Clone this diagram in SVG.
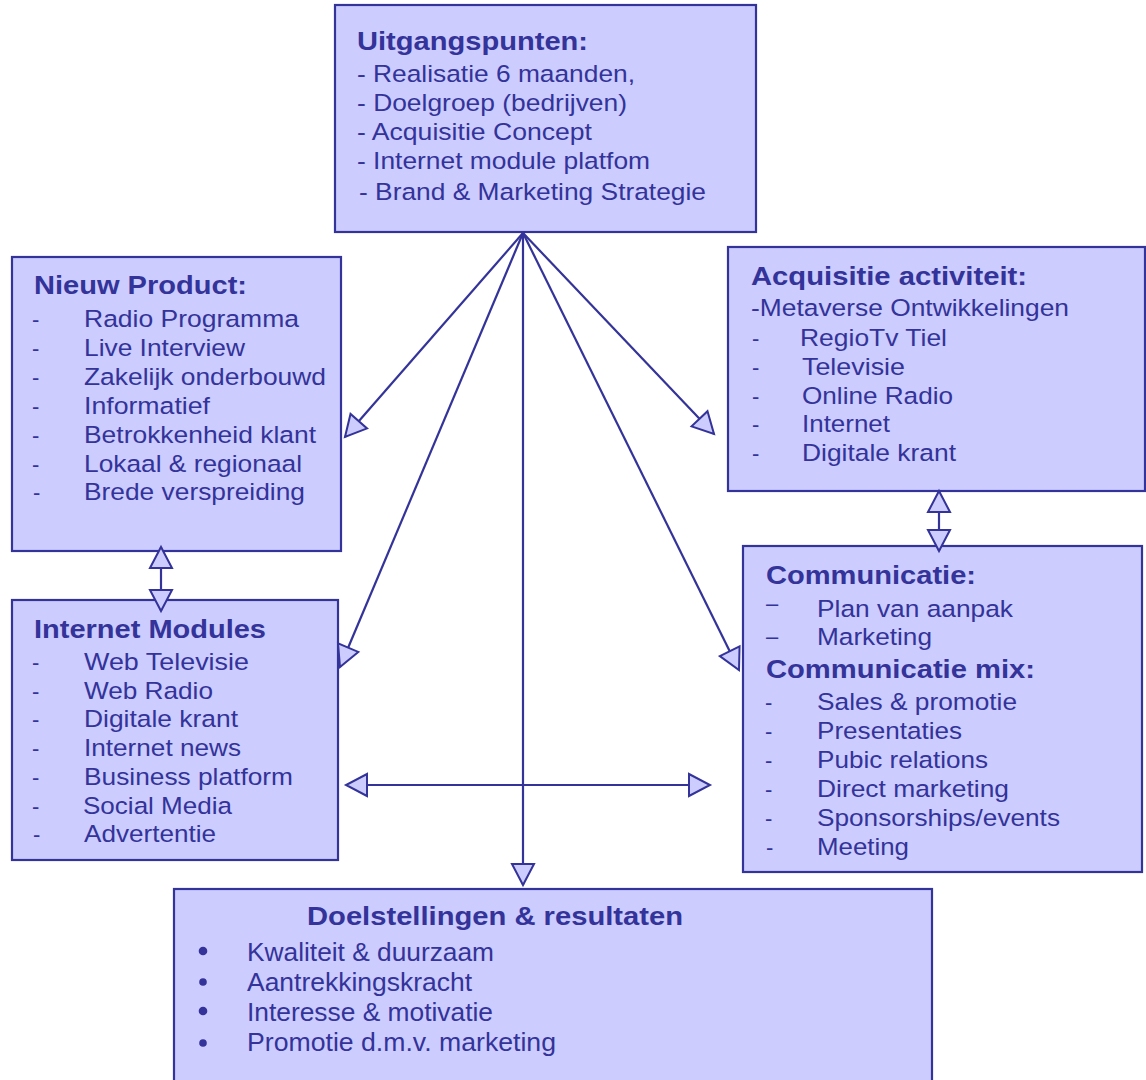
<svg xmlns="http://www.w3.org/2000/svg" width="1146" height="1080" viewBox="0 0 1146 1080">
<defs>
<style>
.box{fill:#ccccff;stroke:#333399;stroke-width:2.2}
.t{font-family:"Liberation Sans",Arial,sans-serif;fill:#333399;font-size:24.5px}
.h{font-family:"Liberation Sans",Arial,sans-serif;fill:#333399;font-size:26px;font-weight:bold}
.c{stroke:#333399;stroke-width:2.2;fill:none}
.d{font-family:"Liberation Sans",Arial,sans-serif;fill:#333399;font-size:22px}
.n{font-family:"Liberation Sans",Arial,sans-serif;fill:#333399;font-size:26px}
</style>
<marker id="ah" markerUnits="userSpaceOnUse" viewBox="-2 -2 25 26" refX="21" refY="11" markerWidth="25" markerHeight="26" orient="auto-start-reverse" overflow="visible">
<path d="M0,0 L21,11 L0,22 Z" fill="#ccccff" stroke="#333399" stroke-width="2"/>
</marker>
</defs>
<rect width="1146" height="1080" fill="#ffffff"/>

<g id="uitgangspunten">
<rect class="box" x="335" y="5" width="421" height="227"/>
<text class="h" x="357" y="50" textLength="231" lengthAdjust="spacingAndGlyphs">Uitgangspunten:</text>
<text class="t" x="357" y="82" textLength="278" lengthAdjust="spacingAndGlyphs">- Realisatie 6 maanden,</text>
<text class="t" x="357" y="111" textLength="270" lengthAdjust="spacingAndGlyphs">- Doelgroep (bedrijven)</text>
<text class="t" x="357" y="140" textLength="235" lengthAdjust="spacingAndGlyphs">- Acquisitie Concept</text>
<text class="t" x="357" y="169" textLength="293" lengthAdjust="spacingAndGlyphs">- Internet module platfom</text>
<text class="t" x="359" y="200" textLength="347" lengthAdjust="spacingAndGlyphs">- Brand &amp; Marketing Strategie</text>
</g>

<g id="nieuw-product">
<rect class="box" x="12" y="257" width="329" height="294"/>
<text class="h" x="34" y="294" textLength="213" lengthAdjust="spacingAndGlyphs">Nieuw Product:</text>
<text class="d" x="32" y="327">-</text><text class="t" x="84" y="327" textLength="215" lengthAdjust="spacingAndGlyphs">Radio Programma</text>
<text class="d" x="32" y="356">-</text><text class="t" x="84" y="356" textLength="161" lengthAdjust="spacingAndGlyphs">Live Interview</text>
<text class="d" x="32" y="385">-</text><text class="t" x="84" y="385" textLength="242" lengthAdjust="spacingAndGlyphs">Zakelijk onderbouwd</text>
<text class="d" x="32" y="414">-</text><text class="t" x="84" y="414" textLength="126" lengthAdjust="spacingAndGlyphs">Informatief</text>
<text class="d" x="32" y="443">-</text><text class="t" x="84" y="443" textLength="232" lengthAdjust="spacingAndGlyphs">Betrokkenheid klant</text>
<text class="d" x="32" y="472">-</text><text class="t" x="84" y="472" textLength="218" lengthAdjust="spacingAndGlyphs">Lokaal &amp; regionaal</text>
<text class="d" x="33" y="500" font-size="17">-</text><text class="t" x="84" y="500" textLength="221" lengthAdjust="spacingAndGlyphs">Brede verspreiding</text>
</g>

<g id="acquisitie">
<rect class="box" x="728" y="247" width="417" height="244"/>
<text class="h" x="751" y="285" textLength="276" lengthAdjust="spacingAndGlyphs">Acquisitie activiteit:</text>
<text class="t" x="751" y="316" textLength="318" lengthAdjust="spacingAndGlyphs">-Metaverse Ontwikkelingen</text>
<text class="d" x="752" y="346">-</text><text class="t" x="800" y="346" textLength="147" lengthAdjust="spacingAndGlyphs">RegioTv Tiel</text>
<text class="d" x="752" y="375">-</text><text class="t" x="802" y="375" textLength="103" lengthAdjust="spacingAndGlyphs">Televisie</text>
<text class="d" x="752" y="404">-</text><text class="t" x="802" y="404" textLength="151" lengthAdjust="spacingAndGlyphs">Online Radio</text>
<text class="d" x="752" y="432">-</text><text class="t" x="802" y="432" textLength="88" lengthAdjust="spacingAndGlyphs">Internet</text>
<text class="d" x="752" y="461">-</text><text class="t" x="802" y="461" textLength="154" lengthAdjust="spacingAndGlyphs">Digitale krant</text>
</g>

<g id="internet-modules">
<rect class="box" x="12" y="600" width="326" height="260"/>
<text class="h" x="34" y="638" textLength="232" lengthAdjust="spacingAndGlyphs">Internet Modules</text>
<text class="d" x="32" y="670">-</text><text class="t" x="84" y="670" textLength="165" lengthAdjust="spacingAndGlyphs">Web Televisie</text>
<text class="d" x="32" y="699">-</text><text class="t" x="84" y="699" textLength="129" lengthAdjust="spacingAndGlyphs">Web Radio</text>
<text class="d" x="32" y="727">-</text><text class="t" x="84" y="727" textLength="154" lengthAdjust="spacingAndGlyphs">Digitale krant</text>
<text class="d" x="32" y="756">-</text><text class="t" x="84" y="756" textLength="157" lengthAdjust="spacingAndGlyphs">Internet news</text>
<text class="d" x="32" y="785">-</text><text class="t" x="84" y="785" textLength="209" lengthAdjust="spacingAndGlyphs">Business platform</text>
<text class="d" x="32" y="814">-</text><text class="t" x="83" y="814" textLength="149" lengthAdjust="spacingAndGlyphs">Social Media</text>
<text class="d" x="33" y="842" font-size="17">-</text><text class="t" x="84" y="842" textLength="132" lengthAdjust="spacingAndGlyphs">Advertentie</text>
</g>

<g id="communicatie">
<rect class="box" x="743" y="546" width="399" height="326"/>
<text class="h" x="766" y="584" textLength="210" lengthAdjust="spacingAndGlyphs">Communicatie:</text>
<text class="d" x="766" y="611" font-size="17">–</text><text class="t" x="817" y="617" textLength="196" lengthAdjust="spacingAndGlyphs">Plan van aanpak</text>
<text class="d" x="766" y="644" font-size="17">–</text><text class="t" x="817" y="645" textLength="115" lengthAdjust="spacingAndGlyphs">Marketing</text>
<text class="h" x="766" y="678" textLength="269" lengthAdjust="spacingAndGlyphs">Communicatie mix:</text>
<text class="d" x="765" y="710">-</text><text class="t" x="817" y="710" textLength="200" lengthAdjust="spacingAndGlyphs">Sales &amp; promotie</text>
<text class="d" x="765" y="739">-</text><text class="t" x="817" y="739" textLength="145" lengthAdjust="spacingAndGlyphs">Presentaties</text>
<text class="d" x="765" y="768">-</text><text class="t" x="817" y="768" textLength="171" lengthAdjust="spacingAndGlyphs">Pubic relations</text>
<text class="d" x="765" y="797">-</text><text class="t" x="817" y="797" textLength="192" lengthAdjust="spacingAndGlyphs">Direct marketing</text>
<text class="d" x="765" y="826">-</text><text class="t" x="817" y="826" textLength="243" lengthAdjust="spacingAndGlyphs">Sponsorships/events</text>
<text class="d" x="766" y="855" font-size="17">-</text><text class="t" x="817" y="855" textLength="92" lengthAdjust="spacingAndGlyphs">Meeting</text>
</g>

<g id="doelstellingen">
<rect class="box" x="174" y="889" width="758" height="200"/>
<text class="h" x="307" y="925" font-size="27" textLength="376" lengthAdjust="spacingAndGlyphs">Doelstellingen &amp; resultaten</text>
<circle cx="203" cy="951" r="4.3" fill="#333399"/><text class="n" x="247" y="961" textLength="247" lengthAdjust="spacingAndGlyphs">Kwaliteit &amp; duurzaam</text>
<circle cx="203" cy="982" r="3.8" fill="#333399"/><text class="n" x="247" y="991" textLength="225" lengthAdjust="spacingAndGlyphs">Aantrekkingskracht</text>
<circle cx="203" cy="1011" r="4.3" fill="#333399"/><text class="n" x="247" y="1021" textLength="246" lengthAdjust="spacingAndGlyphs">Interesse &amp; motivatie</text>
<circle cx="203" cy="1043" r="3.8" fill="#333399"/><text class="n" x="247" y="1051" textLength="309" lengthAdjust="spacingAndGlyphs">Promotie d.m.v. marketing</text>
</g>

<g id="connectors">
<line class="c" x1="523" y1="233" x2="345" y2="437" marker-end="url(#ah)"/>
<line class="c" x1="523" y1="233" x2="340" y2="667" marker-end="url(#ah)"/>
<line class="c" x1="523" y1="233" x2="714" y2="434" marker-end="url(#ah)"/>
<line class="c" x1="523" y1="233" x2="739" y2="670" marker-end="url(#ah)"/>
<line class="c" x1="523" y1="233" x2="523" y2="885" marker-end="url(#ah)"/>
<line class="c" x1="346" y1="785" x2="710" y2="785" marker-start="url(#ah)" marker-end="url(#ah)"/>
<line class="c" x1="161" y1="547" x2="161" y2="611" marker-start="url(#ah)" marker-end="url(#ah)"/>
<line class="c" x1="939" y1="491" x2="939" y2="551" marker-start="url(#ah)" marker-end="url(#ah)"/>
</g>
</svg>
